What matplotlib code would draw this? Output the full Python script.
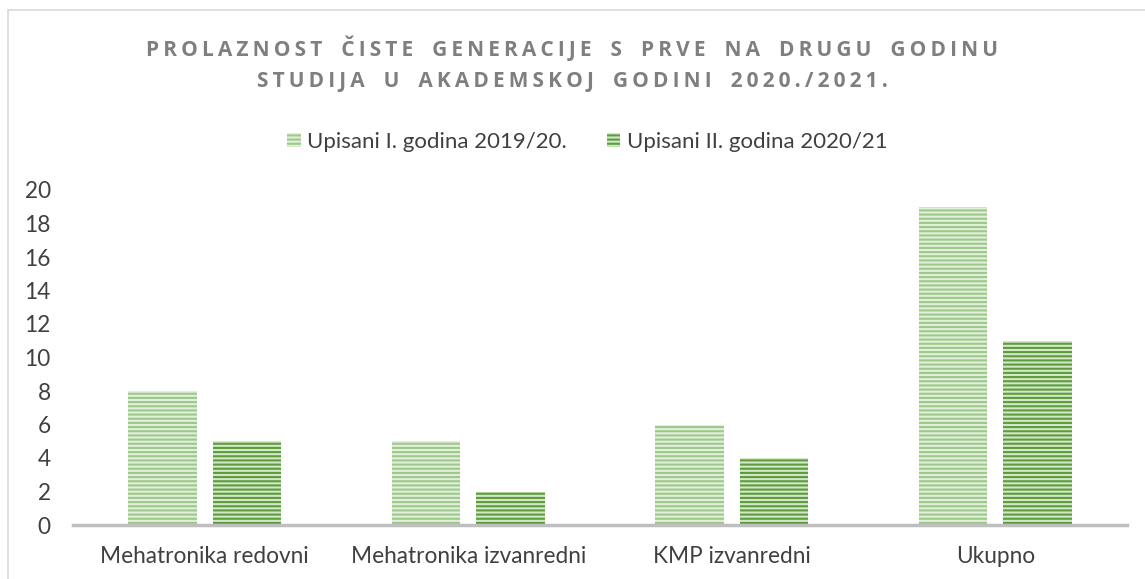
import matplotlib.pyplot as plt
import numpy as np
from matplotlib.patches import Rectangle

categories = ['Mehatronika redovni', 'Mehatronika izvanredni', 'KMP izvanredni', 'Ukupno']
upisani_1 = [8, 5, 6, 19]    # Upisani I. godina 2019/20.
upisani_2 = [5, 2, 4, 11]    # Upisani II. godina 2020/21
series_names = ['Upisani I. godina 2019/20.', 'Upisani II. godina 2020/21']
title_lines = ['PROLAZNOST ČISTE GENERACIJE S PRVE NA DRUGU GODINU',
               'STUDIJA U AKADEMSKOJ GODINI 2020./2021.']

plt.rcParams['font.family'] = ['Lato', 'DejaVu Sans']
plt.rcParams['hatch.linewidth'] = 1.5

fig = plt.figure(figsize=(11.45, 5.79), dpi=100)
ax = fig.add_axes([73 / 1145, 1 - 525 / 579, (1127 - 73) / 1145, (525 - 190) / 579])

# outer chart frame
fig.patches.append(Rectangle((8 / 1145, -0.05), 1.2, 1 - 10 / 579 + 0.05,
                             transform=fig.transFigure, fill=False,
                             edgecolor='#d9d9d9', linewidth=1.2))

x = np.arange(len(categories))
w = 0.26
off = 0.16
b1 = ax.bar(x - off, upisani_1, w, color='#e2efdb', edgecolor='#9cc98a',
            hatch='----', linewidth=0)
b2 = ax.bar(x + off, upisani_2, w, color='#d3e8c8', edgecolor='#5c9c3c',
            hatch='----', linewidth=0)

ax.set_xlim(-0.5, 3.5)
ax.set_ylim(0, 20)
ax.set_yticks(range(0, 21, 2))
ax.set_xticks(x)
ax.set_xticklabels(categories)
ax.tick_params(axis='both', length=0, labelsize=16.3, colors='#404040')
ax.tick_params(axis='x', pad=15)
ax.tick_params(axis='y', pad=16)
for s in ['top', 'right', 'left']:
    ax.spines[s].set_visible(False)
ax.spines['bottom'].set_color('#bfbfbf')
ax.spines['bottom'].set_linewidth(2.5)

# title with spread-out letters
for i, line in enumerate(title_lines):
    spaced = '\u2009'.join(line).replace('\u2009 \u2009', '\u2009  \u2009')
    fig.text(0.5, 1 - (48 + 33 * i) / 579, spaced, ha='center', va='center',
             fontsize=15, fontweight='bold', color='#7f7f7f',
             family=['Open Sans', 'DejaVu Sans'])

fig.legend([b1, b2], series_names, loc='center',
           bbox_to_anchor=(0.5 + 15 / 1145, 1 - 142 / 579),
           ncol=2, frameon=False, fontsize=16, handlelength=0.6, handleheight=0.6,
           handletextpad=0.3, columnspacing=1.8, labelcolor='#404040')

fig.savefig('out.png', dpi=100)
